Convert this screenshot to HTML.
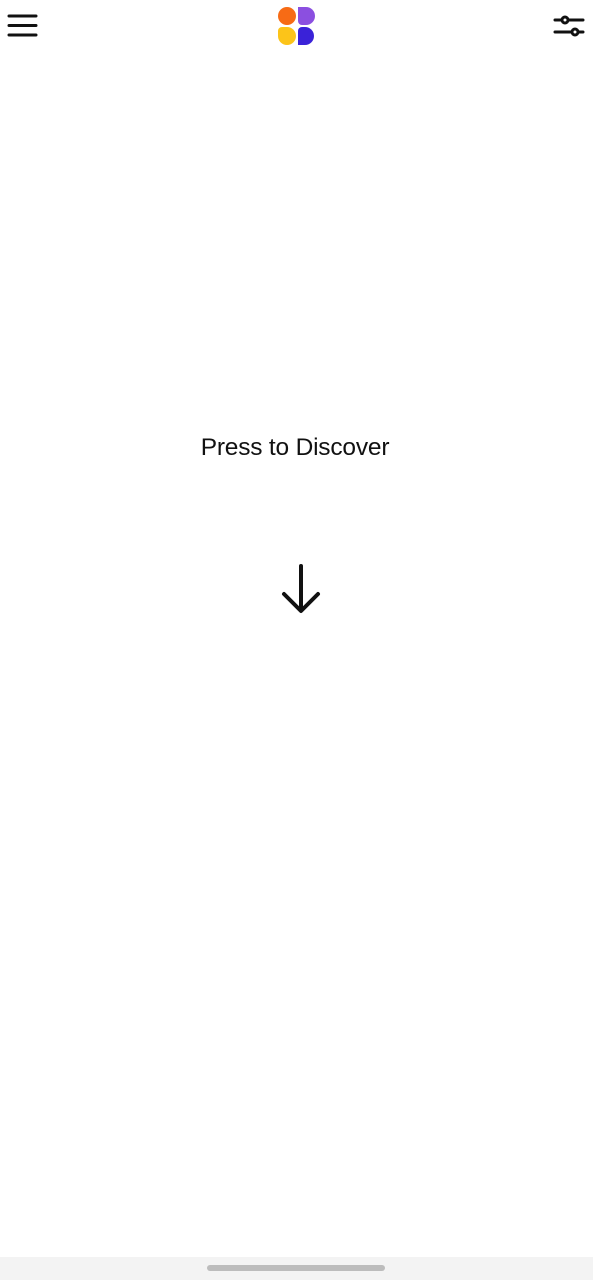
<!DOCTYPE html>
<html><head><meta charset="utf-8"><style>
html,body{margin:0;padding:0;background:#fff;width:593px;height:1280px;overflow:hidden;position:relative;font-family:"Liberation Sans",sans-serif}
.abs{position:absolute}
</style></head><body>
<svg class="abs" style="left:0;top:0" width="50" height="50">
<g stroke="#111" stroke-width="3" stroke-linecap="round"><line x1="9" y1="16" x2="36" y2="16"/><line x1="9" y1="25.5" x2="36" y2="25.5"/><line x1="9" y1="35" x2="36" y2="35"/></g></svg>
<svg class="abs" style="left:270px;top:0" width="54" height="50">
<circle cx="17" cy="16" r="9" fill="#f76b15"/>
<path d="M28 7 h8 a9 9 0 0 1 0 18 h-4 a4 4 0 0 1 -4 -4 z" fill="#8b4fe0"/>
<path d="M8 31 a4 4 0 0 1 4 -4 h5 a9 9 0 0 1 0 18 a9 9 0 0 1 -9 -9 z" fill="#fcc419"/>
<path d="M28 31 a4 4 0 0 1 4 -4 h3 a9 9 0 0 1 0 18 h-7 z" fill="#3a22d8"/>
</svg>
<svg class="abs" style="left:545px;top:0" width="48" height="50">
<g stroke="#111" stroke-width="3" stroke-linecap="round" fill="#fff"><line x1="10" y1="20" x2="38" y2="20"/><line x1="10" y1="32" x2="38" y2="32"/><circle cx="20" cy="20" r="3"/><circle cx="30" cy="32" r="3"/></g></svg>
<div class="abs" style="left:0;width:593px;top:433px;text-align:center;font-size:24.5px;color:#111;letter-spacing:-0.2px;line-height:30px;padding-right:3px;box-sizing:border-box">Press to Discover</div>
<svg class="abs" style="left:276px;top:560px" width="50" height="56">
<g stroke="#111" stroke-width="4" fill="none" stroke-linecap="round" stroke-linejoin="round"><line x1="25" y1="6" x2="25" y2="50"/><polyline points="8,34 25,51 42,34"/></g></svg>
<div class="abs" style="left:0;top:1257px;width:593px;height:23px;background:#f3f3f3"></div>
<div class="abs" style="left:207px;top:1265px;width:178px;height:6px;border-radius:3px;background:#bcbcbc"></div>
</body></html>
